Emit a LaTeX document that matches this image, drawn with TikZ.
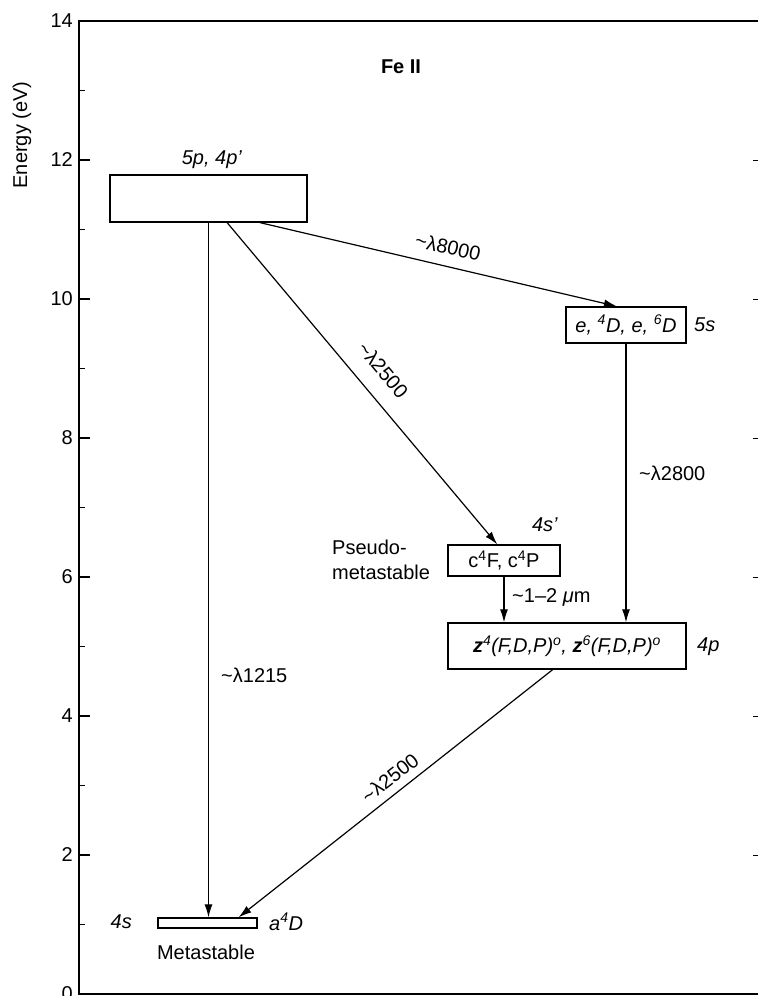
\documentclass[tikz,border=0pt]{standalone}
\usepackage{fontspec}
\setmainfont{Liberation Sans}
\usetikzlibrary{arrows.meta,calc}
\begin{document}
\begin{tikzpicture}[x=1pt,y=-1pt,
  lbl/.style={font=\fontsize{20}{25}\selectfont, inner sep=0pt},
  lvl/.style={draw, line width=1.3pt, inner sep=0pt, font=\fontsize{20}{25}\selectfont},
  arr/.style={line width=1.2pt, -{Latex[length=13pt,width=8pt]}},
  ax/.style={line width=1.3pt}]
\useasboundingbox (0,0) rectangle (758,996);
% axes
\draw[ax] (758,21) -- (79,21) -- (79,994) -- (758,994);
\foreach \e in {0,2,...,14}{
  \draw[ax] (79,{994-69.5*\e}) -- ++(11,0);
  \node[lbl,anchor=east] (t\e) at (73,{994-69.5*\e}) {\e};
}
\foreach \e in {1,3,...,13}{
  \draw[ax] (79,{994-69.5*\e}) -- ++(6,0);
}
\foreach \e in {2,4,...,12}{
  \draw[line width=0.8pt] (753,{994-69.5*\e}) -- (758,{994-69.5*\e});
}
\node[lbl, rotate=90] (ylab) at (22,135) {Energy (eV)};
\node[lbl, font=\fontsize{20}{25}\selectfont\bfseries] (title) at (401,67) {Fe II};
% levels
\node[lvl, minimum width=197pt, minimum height=47pt] (top) at (208.5,198.5) {};
\node[lbl] (toplab) at (212,160) {\textit{5p, 4p'}};
\node[lvl, minimum width=120pt, minimum height=36pt] (e) at (626,325) {\textit{e, \textsuperscript{4}D, e, \textsuperscript{6}D}};
\node[lbl, anchor=west] (five) at (694,325) {\textit{5s}};
\node[lvl, minimum width=112pt, minimum height=31pt] (c) at (504,560.5) {c\textsuperscript{4}F, c\textsuperscript{4}P};
\node[lbl] (fours) at (545,525) {\textit{4s'}};
\node[lbl, anchor=west, align=left, font=\fontsize{20}{25}\selectfont] (pseudo) at (332,560) {Pseudo-\\metastable};
\node[lvl, minimum width=238pt, minimum height=46pt] (z) at (567,646) {\textit{\textbf{z}\textsuperscript{4}(F,D,P)\textsuperscript{o}, \textbf{z}\textsuperscript{6}(F,D,P)\textsuperscript{o}}};
\node[lbl, anchor=west] (fourp) at (697,647) {\textit{4p}};
\node[lvl, minimum width=99pt, minimum height=10pt] (g) at (207.5,923) {};
\node[lbl, anchor=east] (gs) at (132,922) {\textit{4s}};
\node[lbl, anchor=west] (ga) at (269,922) {\textit{a\textsuperscript{4}D}};
\node[lbl] (meta) at (206,952) {Metastable};
% transitions
\draw[arr] (top.south) -- (top.south |- g.north);
\draw[arr] ($(top.south west)!0.594!(top.south east)$) -- ($(c.north west)!0.44!(c.north east)$);
\draw[arr] ($(top.south west)!0.76!(top.south east)$) -- ($(e.north west)!0.425!(e.north east)$);
\draw[arr] (e.south) -- (e.south |- z.north);
\draw[arr] (c.south) -- (c.south |- z.north);
\draw[arr] ($(z.south west)!0.44!(z.south east)$) -- ($(g.north west)!0.81!(g.north east)$);
% labels
\node[lbl, rotate=-13] (l8000) at (448,247) {\textasciitilde λ8000};
\node[lbl, rotate=-50] (l2500a) at (383,370) {\textasciitilde λ2500};
\node[lbl, anchor=west] (l2800) at (639,473) {\textasciitilde λ2800};
\node[lbl, anchor=west] (l1215) at (221,675) {\textasciitilde λ1215};
\node[lbl, rotate=38] (l2500b) at (390,778) {\textasciitilde λ2500};
\node[lbl, anchor=west] (lum) at (512,597) {\textasciitilde 1–2 \textit{μ}m};
\end{tikzpicture}
\end{document}
